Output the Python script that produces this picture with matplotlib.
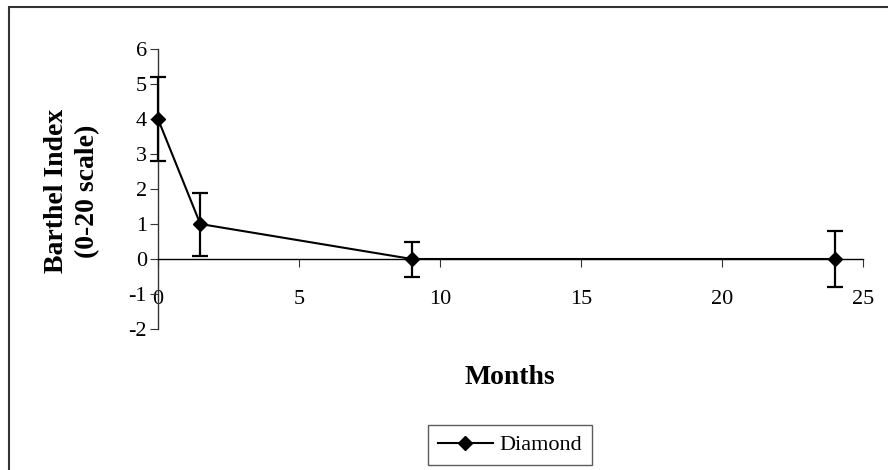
import matplotlib
matplotlib.use("Agg")
import matplotlib.pyplot as plt
from matplotlib.patches import Rectangle
from matplotlib.lines import Line2D

plt.rcParams["font.family"] = ["Liberation Serif", "DejaVu Serif"]

# Barthel Index change over follow-up
months = [0, 1.5, 9, 24]
barthel = [4, 1, 0, 0]
err = [1.2, 0.9, 0.5, 0.8]
series_name = "Diamond"
x_ticks = [0, 5, 10, 15, 20, 25]
y_ticks = [-2, -1, 0, 1, 2, 3, 4, 5, 6]

W, H = 888, 470
fig = plt.figure(figsize=(W / 100, H / 100), dpi=100)
ax = fig.add_axes([158 / W, 1 - 329 / H, (863 - 158) / W, (329 - 49) / H])

eb = ax.errorbar(months, barthel, yerr=err, color="black", lw=1.5,
                 marker="D", ms=7, elinewidth=1.6, capsize=6, capthick=1.6,
                 zorder=3)
for art in [eb.lines[0], *eb.lines[1], *eb.lines[2]]:
    art.set_clip_on(False)

ax.set_xlim(0, 25)
ax.set_ylim(-2, 6)
ax.set_xticks(x_ticks)
ax.set_yticks(y_ticks)
ax.set_xticklabels([str(v) for v in x_ticks])
ax.set_yticklabels([str(v) for v in y_ticks])

ax.spines["top"].set_visible(False)
ax.spines["right"].set_visible(False)
ax.spines["bottom"].set_position(("data", 0))
ax.spines["bottom"].set_color("black")
ax.spines["bottom"].set_linewidth(1.0)
ax.spines["left"].set_color("#333333")
ax.spines["left"].set_linewidth(1.0)

ax.tick_params(axis="x", direction="out", length=5.5, width=0.8,
               pad=16.5, labelsize=16, colors="#333333", labelcolor="black")
ax.tick_params(axis="y", direction="out", length=5.5, width=0.8,
               pad=2.5, labelsize=16, colors="#333333", labelcolor="black")

fig.text(72 / W, 1 - 191 / H, "Barthel Index\n(0-20 scale)", rotation=90,
         ha="center", va="center", fontsize=20, fontweight="bold",
         linespacing=1.35, multialignment="center")
fig.text(510 / W, 1 - 378 / H, "Months", ha="center", va="center",
         fontsize=20, fontweight="bold")

handle = Line2D([], [], color="black", lw=1.5, marker="D", ms=7)
leg = fig.legend(handles=[handle], labels=[series_name], loc="center",
                 bbox_to_anchor=(510 / W, 1 - 445 / H), fontsize=16,
                 frameon=True, fancybox=False, edgecolor="#333333",
                 handlelength=2.5, borderpad=0.45, handletextpad=0.3,
                 borderaxespad=0)
leg.get_frame().set_linewidth(1.0)

# outer chart frame
fig.patches.append(Rectangle((8.5 / W, -0.1), 2, 1.1 - 7.5 / H,
                             transform=fig.transFigure, fill=False,
                             edgecolor="#333333", lw=1.5))

fig.savefig("out.png", dpi=100)
